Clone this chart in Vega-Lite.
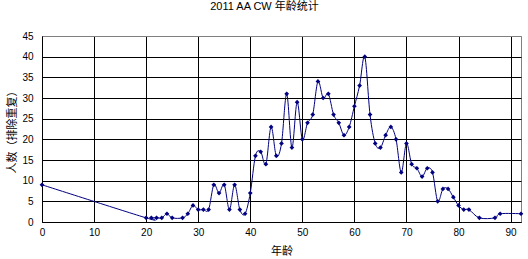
{
  "$schema": "https://vega.github.io/schema/vega-lite/v6.json",
  "width": 479,
  "height": 186,
  "autosize": {"type": "none"},
  "padding": {"left": 42, "top": 36, "right": 7, "bottom": 37},
  "background": "white",
  "title": {"text": "2011 AA CW 年龄统计", "fontSize": 11, "fontWeight": "normal", "font": "Liberation Sans, Noto Sans CJK SC", "color": "black", "offset": 19, "dx": -17},
  "config": {
    "view": {"stroke": "#808080", "strokeWidth": 1},
    "axis": {
      "labelFont": "Liberation Sans, Noto Sans CJK SC",
      "labelFontSize": 10,
      "labelColor": "black",
      "labelFlush": false,
      "titleFont": "Liberation Sans, Noto Sans CJK SC",
      "titleFontSize": 11,
      "titleFontWeight": "normal",
      "titleColor": "black",
      "domainColor": "black",
      "domainWidth": 1,
      "ticks": false,
      "grid": true,
      "gridOpacity": 1,
      "gridWidth": 1
    }
  },
  "data": {"values": [
    {"age": 0, "count": 9},
    {"age": 20, "count": 1}, {"age": 21, "count": 1}, {"age": 22, "count": 1}, {"age": 23, "count": 1},
    {"age": 24, "count": 2}, {"age": 25, "count": 1}, {"age": 27, "count": 1}, {"age": 28, "count": 2},
    {"age": 29, "count": 4}, {"age": 30, "count": 3}, {"age": 31, "count": 3}, {"age": 32, "count": 3},
    {"age": 33, "count": 9}, {"age": 34, "count": 7}, {"age": 35, "count": 9}, {"age": 36, "count": 3},
    {"age": 37, "count": 9}, {"age": 38, "count": 3}, {"age": 39, "count": 2}, {"age": 40, "count": 7},
    {"age": 41, "count": 16}, {"age": 42, "count": 17}, {"age": 43, "count": 14}, {"age": 44, "count": 23},
    {"age": 45, "count": 16}, {"age": 46, "count": 19}, {"age": 47, "count": 31}, {"age": 48, "count": 18},
    {"age": 49, "count": 29}, {"age": 50, "count": 20}, {"age": 51, "count": 24}, {"age": 52, "count": 26},
    {"age": 53, "count": 34}, {"age": 54, "count": 30}, {"age": 55, "count": 31}, {"age": 56, "count": 26},
    {"age": 57, "count": 24}, {"age": 58, "count": 21}, {"age": 59, "count": 23}, {"age": 60, "count": 28},
    {"age": 61, "count": 33}, {"age": 62, "count": 40}, {"age": 63, "count": 26}, {"age": 64, "count": 19},
    {"age": 65, "count": 18}, {"age": 66, "count": 21}, {"age": 67, "count": 23}, {"age": 68, "count": 20},
    {"age": 69, "count": 12}, {"age": 70, "count": 19}, {"age": 71, "count": 14}, {"age": 72, "count": 13},
    {"age": 73, "count": 11}, {"age": 74, "count": 13}, {"age": 75, "count": 12}, {"age": 76, "count": 5},
    {"age": 77, "count": 8}, {"age": 78, "count": 8}, {"age": 79, "count": 6}, {"age": 80, "count": 4},
    {"age": 81, "count": 3}, {"age": 82, "count": 3}, {"age": 84, "count": 1}, {"age": 87, "count": 1},
    {"age": 88, "count": 2}, {"age": 92, "count": 2}
  ]},
  "encoding": {
    "x": {
      "field": "age", "type": "quantitative",
      "scale": {"domain": [0, 92], "nice": false, "zero": false},
      "axis": {"values": [0, 10, 20, 30, 40, 50, 60, 70, 80, 90], "title": "年龄", "gridColor": "black", "labelPadding": 5, "titlePadding": 8}
    },
    "y": {
      "field": "count", "type": "quantitative",
      "scale": {"domain": [0, 45], "nice": false},
      "axis": {"values": [0, 5, 10, 15, 20, 25, 30, 35, 40, 45], "title": "人数（排除重复）", "gridColor": {"condition": {"test": "datum.value == 45", "value": "#808080"}, "value": "black"}, "labelPadding": 9, "titlePadding": 4}
    }
  },
  "layer": [
    {"mark": {"type": "line", "interpolate": "cardinal", "color": "#000080", "strokeWidth": 1}},
    {"mark": {"type": "point", "shape": "diamond", "filled": true, "color": "#000080", "size": 22, "opacity": 1}}
  ]
}
